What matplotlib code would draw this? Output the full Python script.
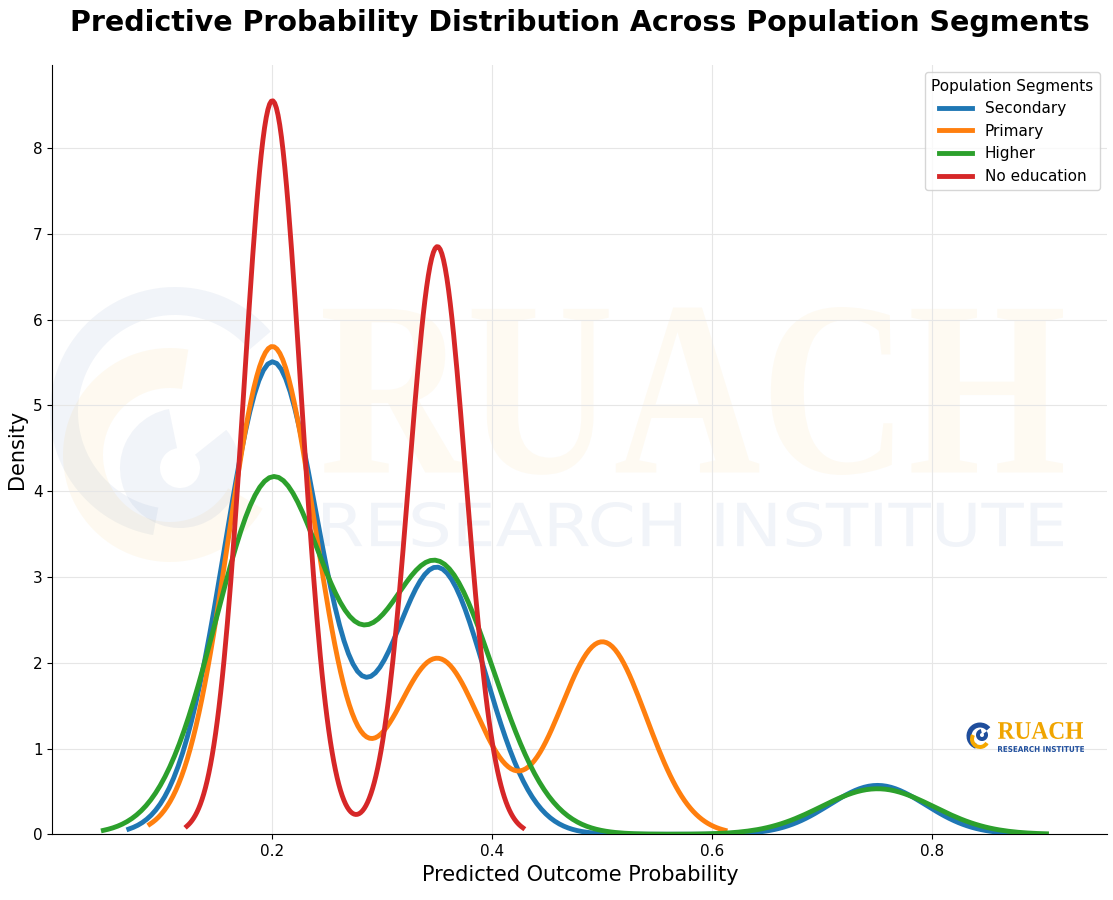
import numpy as np
import matplotlib
matplotlib.use("Agg")
import matplotlib.pyplot as plt
from matplotlib.patches import Arc, PathPatch
from matplotlib.textpath import TextPath
from matplotlib.font_manager import FontProperties
from matplotlib.transforms import Affine2D
import seaborn as sns

# predicted probabilities observed per segment, with relative counts
segments = ["Secondary", "Primary", "Higher", "No education"]
colors = ["#1f77b4", "#ff7f0e", "#2ca02c", "#d62728"]

secondary_vals = [0.2, 0.35, 0.75]
secondary_counts = [550, 310, 57]
primary_vals = [0.2, 0.35, 0.5]
primary_counts = [578, 208, 228]
higher_vals = [0.2, 0.35, 0.75]
higher_counts = [412, 313, 53]
noedu_vals = [0.2, 0.35]
noedu_counts = [855, 685]

# kernel bandwidth (in probability units) per segment
bandwidths = [0.0435, 0.0400, 0.0512, 0.0259]

data = [
    (secondary_vals, secondary_counts),
    (primary_vals, primary_counts),
    (higher_vals, higher_counts),
    (noedu_vals, noedu_counts),
]

W, H = 1113, 900
BLUE = "#1f4e9c"
GOLD = "#f5a800"

fig = plt.figure(figsize=(W / 100, H / 100), dpi=100)
ax = fig.add_axes([0.047, 0.073, 0.948, 0.855])
px = Affine2D().scale(1 / W, 1 / H) + fig.transFigure


def boxed_text(s, box, fp, color, alpha, z):
    # stretch a text path into a pixel box (x0, y0, x1, y1), y from top
    tp = TextPath((0, 0), s, size=100, prop=fp)
    ext = tp.get_extents()
    x0, y0, x1, y1 = box
    tr = (Affine2D().translate(-ext.x0, -ext.y0)
          .scale((x1 - x0) / ext.width, (y1 - y0) / ext.height)
          .translate(x0, H - y1))
    ax.add_patch(PathPatch(tp, transform=tr + px, facecolor=color, edgecolor="none",
                           alpha=alpha, zorder=z, clip_on=False))


def swirl_arc(cx, cy, r, lw, t1, t2, color, alpha, z):
    ax.add_patch(Arc((cx, H - cy), 2 * r, 2 * r, theta1=t1, theta2=t2,
                     transform=px, lw=lw * 0.72, color=color, alpha=alpha,
                     zorder=z, clip_on=False))


# watermark
serif_bold = FontProperties(family="Liberation Serif", weight="bold")
sans = FontProperties(family="DejaVu Sans")
boxed_text("RUACH", (323, 307, 1063, 475), serif_bold, GOLD, 0.05, 0)
boxed_text("RESEARCH INSTITUTE", (323, 502, 1063, 547), sans, BLUE, 0.06, 0)
swirl_arc(175, 412, 111, 28, 40, 260, BLUE, 0.06, 0)
swirl_arc(170, 455, 87, 40, 80, 330, GOLD, 0.06, 0)
swirl_arc(180, 468, 40, 40, 100, 400, BLUE, 0.06, 0)

for name, color, (vals, counts), bw in zip(segments, colors, data, bandwidths):
    vals = np.array(vals)
    counts = np.array(counts, dtype=float)
    sd = np.sqrt(np.cov(vals, aweights=counts))
    sns.kdeplot(x=vals, weights=counts, bw_method=bw / sd, ax=ax,
                clip=(vals.min() - 3 * bw, vals.max() + 3 * bw),
                color=color, lw=3.5, label=name, zorder=3)

ax.set_xlim(0.0, 0.959)
ax.set_ylim(0, 8.97)
ax.set_xticks([0.2, 0.4, 0.6, 0.8])
ax.set_xticklabels(["0.2", "0.4", "0.6", "0.8"])
ax.tick_params(labelsize=11)
ax.grid(True, color="#e6e6e6", lw=0.8, zorder=1)
ax.set_axisbelow(True)
ax.spines["top"].set_visible(False)
ax.spines["right"].set_visible(False)
ax.set_xlabel("Predicted Outcome Probability", fontsize=15)
ax.set_ylabel("Density", fontsize=15)
fig.suptitle("Predictive Probability Distribution Across Population Segments",
             fontsize=20.5, fontweight="bold", x=0.521, y=0.99)

leg = ax.legend(title="Population Segments", loc="upper right", fontsize=11,
                title_fontsize=11, handlelength=2.2)
leg.set_zorder(5)

# small logo, bottom right
swirl_arc(980, 736, 11, 5, 40, 250, BLUE, 1, 4)
swirl_arc(980, 739, 8, 4, 150, 330, GOLD, 1, 4)
swirl_arc(982, 735, 4, 4, 100, 400, BLUE, 1, 4)
boxed_text("RUACH", (998, 722, 1083, 739), serif_bold, "#f0a500", 1, 4)
boxed_text("RESEARCH INSTITUTE", (998, 746, 1084, 752),
           FontProperties(family="DejaVu Sans", weight="bold"), BLUE, 1, 4)

fig.savefig("out.png", dpi=100)
